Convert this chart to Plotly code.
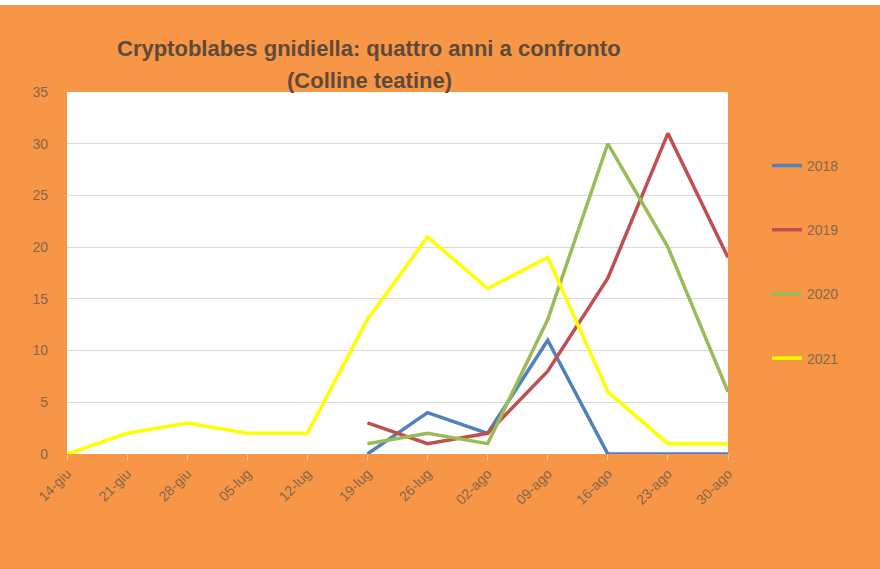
import plotly.graph_objects as go

# Weekly trap counts, mid June to end of August
weeks = ["14-giu", "21-giu", "28-giu", "05-lug", "12-lug", "19-lug",
         "26-lug", "02-ago", "09-ago", "16-ago", "23-ago", "30-ago"]

catture_2018 = [None, None, None, None, None, 0, 4, 2, 11, 0, 0, 0]
catture_2019 = [None, None, None, None, None, 3, 1, 2, 8, 17, 31, 19]
catture_2020 = [None, None, None, None, None, 1, 2, 1, 13, 30, 20, 6]
catture_2021 = [0, 2, 3, 2, 2, 13, 21, 16, 19, 6, 1, 1]

series = [
    ("2018", catture_2018, "#4F81BD"),
    ("2019", catture_2019, "#C0504D"),
    ("2020", catture_2020, "#9BBB59"),
    ("2021", catture_2021, "#FFFF00"),
]

title_lines = ["Cryptoblabes gnidiella: quattro anni a confronto", "(Colline teatine)"]

ORANGE = "#F79646"
TEXT = "#85664C"
FONT = "Liberation Sans, Arial, sans-serif"

fig = go.Figure()
for name, vals, col in series:
    fig.add_trace(go.Scatter(
        x=weeks, y=vals, name=name, mode="lines",
        line=dict(color=col, width=3.5),
        legendgroup=name,
        connectgaps=False,
    ))

W, H = 880, 569
ml, mr, mt, mb = 67, 152, 92, 115
pw = W - ml - mr
ph = H - mt - mb

# two centred title lines
title_annotations = []
for line, ypx in zip(title_lines, [48, 80]):
    title_annotations.append(dict(
        text=f"<b>{line}</b>",
        xref="paper", yref="paper",
        x=(369 - ml) / pw, y=1 + (mt - ypx) / ph,
        xanchor="center", yanchor="middle",
        showarrow=False,
        font=dict(family=FONT, size=22, color="#5E4A3A"),
    ))

fig.update_layout(
    width=W, height=H,
    margin=dict(l=ml, r=mr, t=mt, b=mb),
    paper_bgcolor=ORANGE,
    plot_bgcolor="white",
    showlegend=True,
    legend=dict(
        x=1.059, y=0.84, xanchor="left", yanchor="top",
        traceorder="grouped", tracegroupgap=43,
        font=dict(family=FONT, size=14, color=TEXT),
        bgcolor="rgba(0,0,0,0)",
    ),
    xaxis=dict(
        type="category", range=[0, 11],
        showgrid=False, zeroline=False,
        ticks="outside", ticklen=5, tickcolor="#F5C9A0",
        tickangle=-45,
        tickfont=dict(family=FONT, size=14, color=TEXT),
        showline=False,
    ),
    yaxis=dict(
        range=[0, 35], dtick=5,
        showgrid=True, gridcolor="#D9D9D9", gridwidth=1,
        zeroline=False, showline=False,
        ticklabelstandoff=18,
        tickfont=dict(family=FONT, size=14, color=TEXT),
    ),
    annotations=title_annotations,
    shapes=[
        # thin white strip along the top edge
        dict(type="rect", xref="paper", yref="paper",
             x0=-ml / pw, x1=1 + mr / pw,
             y0=1 + (mt - 5) / ph, y1=1 + mt / ph,
             fillcolor="white", line=dict(width=0), layer="below"),
    ],
)

fig.write_html("out.html")
